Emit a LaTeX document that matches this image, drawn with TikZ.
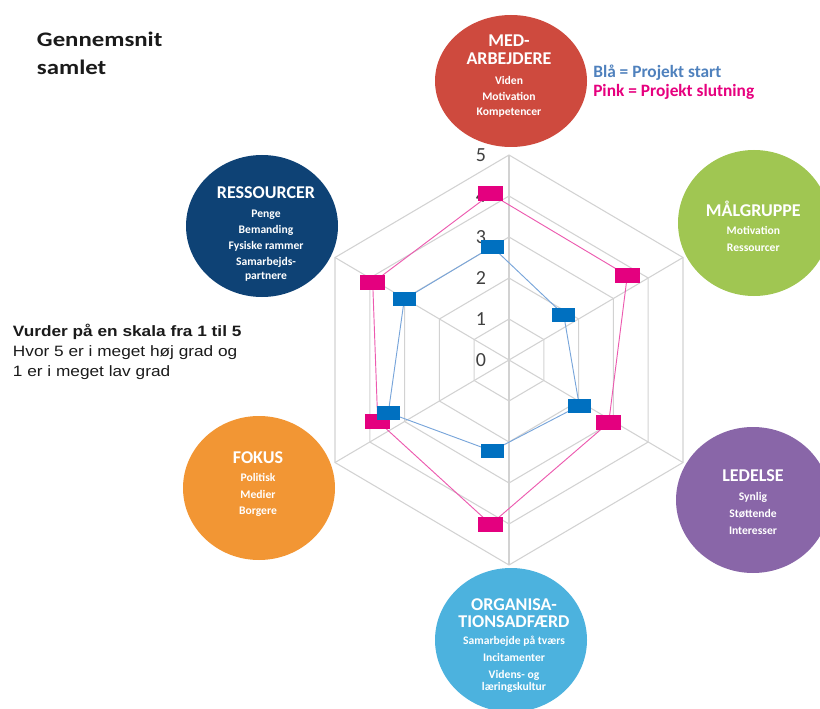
\documentclass[tikz,border=0pt]{standalone}
\usepackage{fontspec}
\setmainfont{Carlito}
\newfontfamily\arialst[FakeStretch=1.15]{Liberation Sans}
\newfontfamily\titlef[FakeStretch=1.2]{Carlito}
\definecolor{redc}{RGB}{206,74,62}
\definecolor{navyc}{RGB}{14,66,117}
\definecolor{greenc}{RGB}{160,198,82}
\definecolor{orangec}{RGB}{242,150,52}
\definecolor{purplec}{RGB}{137,102,168}
\definecolor{lbluec}{RGB}{76,178,222}
\definecolor{pinkm}{RGB}{228,0,127}
\definecolor{bluem}{RGB}{0,112,192}
\definecolor{pinkl}{RGB}{236,90,175}
\definecolor{bluel}{RGB}{120,165,218}
\definecolor{gridc}{RGB}{210,210,210}
\definecolor{numgray}{RGB}{64,64,64}
\definecolor{legblue}{RGB}{79,129,189}
\definecolor{legpink}{RGB}{230,0,126}
\definecolor{txtc}{RGB}{26,26,26}
\begin{document}
\begin{tikzpicture}[x=0.75pt,y=-0.75pt,
  hd/.style={anchor=base, inner sep=0pt, text=white, font=\fontsize{13.5}{16}\selectfont\bfseries},
  sb/.style={anchor=base, inner sep=0pt, text=white, font=\fontsize{8.7}{10}\selectfont\bfseries},
  num/.style={anchor=base, inner sep=0pt, text=numgray, font=\fontsize{15}{18}\selectfont},
  gridline/.style={draw=gridc, line width=0.8pt},
  leftt/.style={anchor=base west, inner sep=0pt, text=txtc},
  legt/.style={anchor=base west, inner sep=0pt, font=\fontsize{13}{15}\selectfont\bfseries}]
\useasboundingbox (0,0) rectangle (820,709);
\clip (0,0) rectangle (820,709);
% grid
\foreach \L in {1,...,5}{
  \draw[gridline] (509,{360-41*\L}) -- ({509+34.8*\L},{360-20.5*\L}) -- ({509+34.8*\L},{360+20.5*\L})
    -- (509,{360+41*\L}) -- ({509-34.8*\L},{360+20.5*\L}) -- ({509-34.8*\L},{360-20.5*\L}) -- cycle;
}
\coordinate (c0) at (509,360);
\coordinate (v1) at (509,155);
\coordinate (v2) at (683,257.5);
\coordinate (v3) at (683,462.5);
\coordinate (v4) at (509,565);
\coordinate (v5) at (335,462.5);
\coordinate (v6) at (335,257.5);
\foreach \v in {v1,v2,v3,v4,v5,v6} \draw[gridline] (c0) -- (\v);
% scale numbers
\foreach \L in {0,...,5} \node[num] (d\L) at (481,{360-41*\L+6.5}) {\L};
% circles
\fill[redc] (511,81) ellipse (76 and 66);
\fill[navyc] (262,226) ellipse (76 and 71);
\fill[greenc] (754,223) ellipse (76 and 73);
\fill[purplec] (753,500) ellipse (77 and 73);
\fill[orangec] (259,488) ellipse (76 and 72);
\fill[lbluec] (511,640) ellipse (76 and 72);
% data lines
\draw[pinkl, line width=0.7pt] (490.7,194) -- (627.3,275.5) -- (608.7,422.7) -- (490.7,524.3) -- (377.7,421) -- (372.7,282.7) -- cycle;
\draw[bluel, line width=0.7pt] (492,246.7) -- (563.7,314.7) -- (579.3,405.7) -- (492,451) -- (388.3,412.7) -- (404.3,299.3) -- cycle;
% markers
\foreach \x/\y in {490.7/194, 627.3/275.5, 608.7/422.7, 490.7/524.3, 377.7/421, 372.7/282.7}
  \fill[pinkm] (\x-12.5,\y-7.5) rectangle (\x+12.5,\y+7.5);
\foreach \x/\y in {492/246.7, 563.7/314.7, 579.3/405.7, 492/451, 388.3/412.7, 404.3/299.3}
  \fill[bluem] (\x-11.5,\y-7) rectangle (\x+11.5,\y+7);
% red circle text
\node[hd] (r1) at (509,46.7) {MED-};
\node[hd] (r2) at (509,65) {ARBEJDERE};
\node[sb] (r3) at (509,85) {Viden};
\node[sb] (r4) at (509,100.5) {Motivation};
\node[sb] (r5) at (509,116) {Kompetencer};
% navy
\node[hd] (n1) at (266,198.5) {RESSOURCER};
\node[sb] (n2) at (266,217.5) {Penge};
\node[sb] (n3) at (266,233.3) {Bemanding};
\node[sb] (n4) at (266,249.3) {Fysiske rammer};
\node[sb] (n5) at (266,265) {Samarbejds-};
\node[sb] (n6) at (266,279.3) {partnere};
% green
\node[hd] (g1) at (753.3,216.7) {MÅLGRUPPE};
\node[sb] (g2) at (753.3,234) {Motivation};
\node[sb] (g3) at (753.3,251) {Ressourcer};
% orange
\node[hd] (o1) at (258,463.3) {FOKUS};
\node[sb] (o2) at (258,481.7) {Politisk};
\node[sb] (o3) at (258,498.3) {Medier};
\node[sb] (o4) at (258,514.3) {Borgere};
% purple
\node[hd] (p1) at (753,481.7) {LEDELSE};
\node[sb] (p2) at (753,500) {Synlig};
\node[sb] (p3) at (753,517.3) {Støttende};
\node[sb] (p4) at (753,534) {Interesser};
% light blue
\node[hd] (b1) at (514,610) {ORGANISA-};
\node[hd] (b2) at (514,627.3) {TIONSADFÆRD};
\node[sb] (b3) at (514,644) {Samarbejde på tværs};
\node[sb] (b4) at (514,661.7) {Incitamenter};
\node[sb] (b5) at (514,678.3) {Videns- og};
\node[sb] (b6) at (514,690) {læringskultur};
% legend
\node[legt, text=legblue] (leg1) at (593,77.3) {Blå = Projekt start};
\node[legt, text=legpink] (leg2) at (593,96.7) {Pink = Projekt slutning};
% title
\node[leftt, font=\titlef\fontsize{15.5}{18}\selectfont\bfseries] (t1) at (36.7,47) {Gennemsnit};
\node[leftt, font=\titlef\fontsize{15.5}{18}\selectfont\bfseries] (t2) at (36.7,75) {samlet};
% instructions
\node[leftt, font=\arialst\fontsize{11.25}{13}\selectfont\bfseries] (i1) at (12.7,336.7) {Vurder på en skala fra 1 til 5};
\node[leftt, font=\arialst\fontsize{11.25}{13}\selectfont] (i2) at (12.7,356.7) {Hvor 5 er i meget høj grad og};
\node[leftt, font=\arialst\fontsize{11.25}{13}\selectfont] (i3) at (12.7,376.7) {1 er i meget lav grad};
\end{tikzpicture}
\end{document}
